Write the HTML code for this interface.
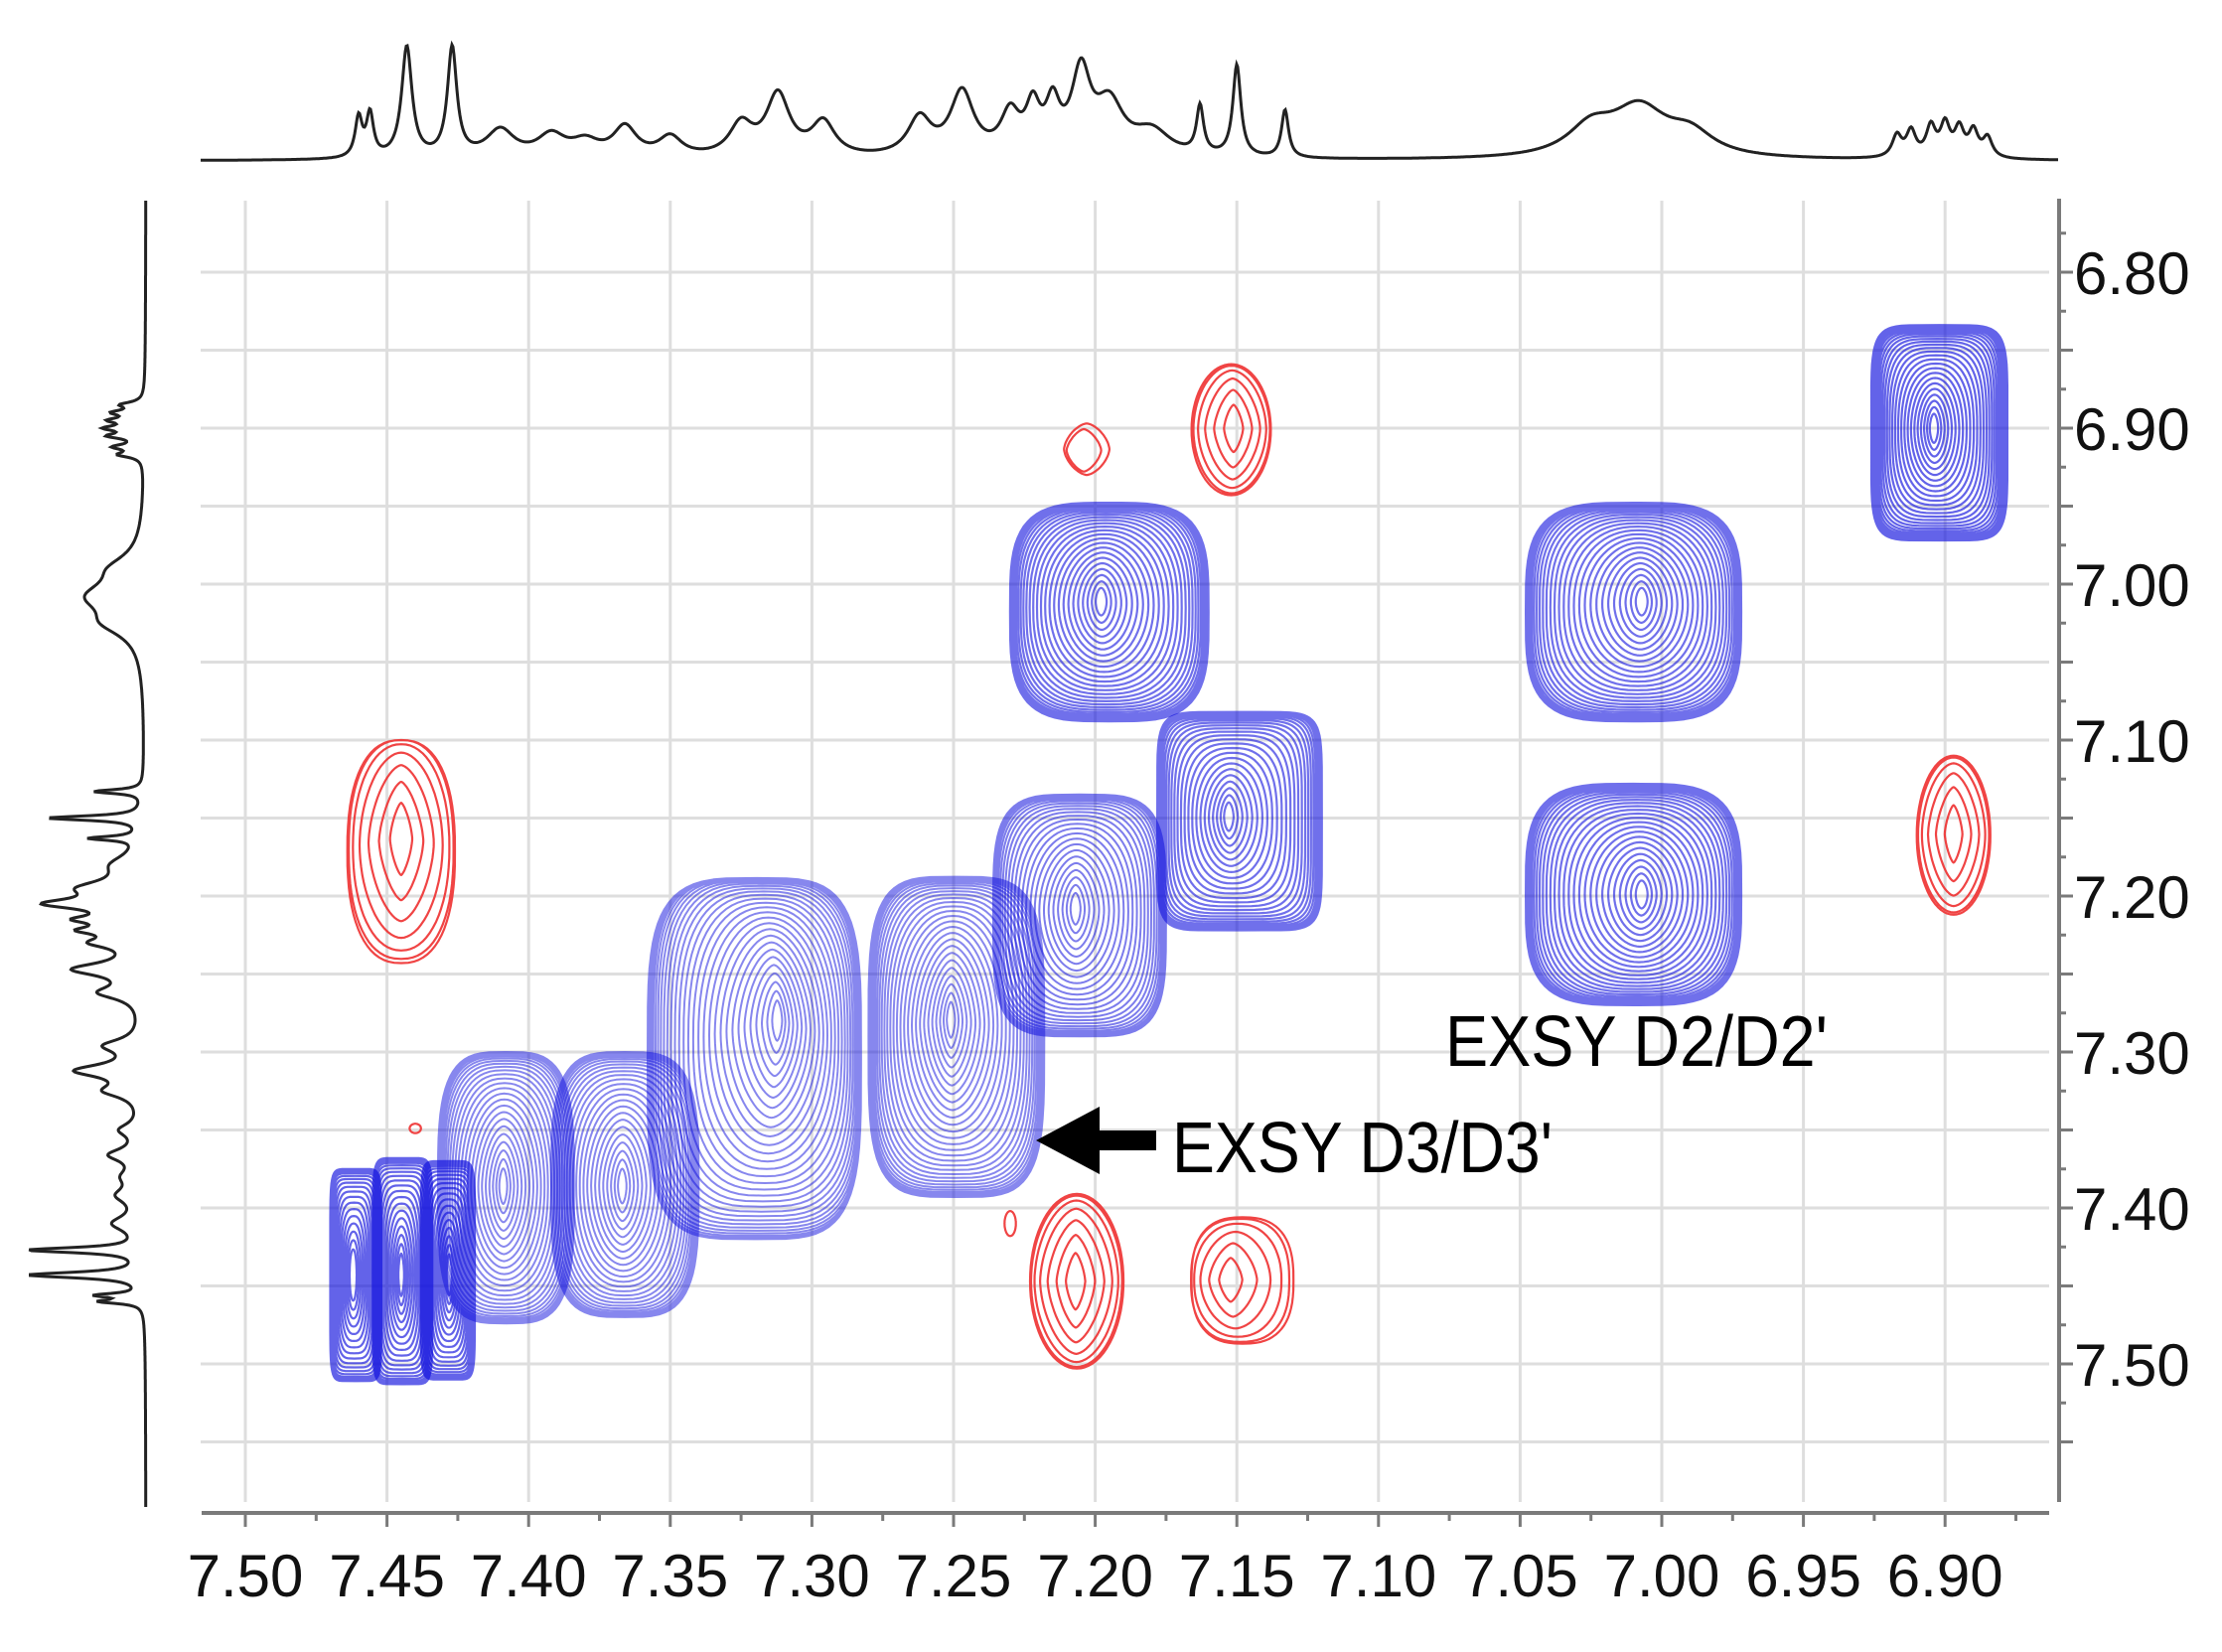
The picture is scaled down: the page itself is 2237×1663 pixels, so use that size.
<!DOCTYPE html>
<html><head><meta charset="utf-8"><style>
html,body{margin:0;padding:0;background:#fff;}
svg{display:block;}
</style></head><body>
<svg id="s" width="2237" height="1663" viewBox="0 0 2237 1663" xmlns="http://www.w3.org/2000/svg" font-family="Liberation Sans, sans-serif">
<g id="grid"></g>
<g id="cont"></g>
<g id="axes"></g>
<g id="spec"></g>
<g fill="#000">
<text x="1455" y="1073" font-size="72" textLength="385" lengthAdjust="spacingAndGlyphs">EXSY D2/D2'</text>
<text x="1180" y="1180" font-size="72" textLength="383" lengthAdjust="spacingAndGlyphs">EXSY D3/D3'</text>
<polygon points="1043,1148 1107,1114 1107,1138 1164,1138 1164,1158 1107,1158 1107,1182"/>
</g>
<g id="labels" font-size="60" fill="#111"></g>
</svg>
<script>
const NS="http://www.w3.org/2000/svg";
const X=v=>247+(7.5-v)*2852;
const Y=v=>274+(v-6.8)*1570;
function el(p,t,a,txt){const e=document.createElementNS(NS,t);for(const k in a)e.setAttribute(k,a[k]);if(txt!==undefined)e.textContent=txt;document.getElementById(p).appendChild(e);return e;}
for(let i=0;i<=12;i++){const x=X(7.5-i*0.05);el('grid','line',{x1:x,x2:x,y1:202,y2:1512,stroke:'#dedede','stroke-width':3});}
for(let i=0;i<=15;i++){const y=Y(6.8+i*0.05);el('grid','line',{x1:202,x2:2063,y1:y,y2:y,stroke:'#dedede','stroke-width':3});}
el('axes','line',{x1:203,x2:2063,y1:1523,y2:1523,stroke:'#7a7a7a','stroke-width':4});
el('axes','line',{x1:2073,x2:2073,y1:200,y2:1512,stroke:'#7a7a7a','stroke-width':4});
for(let i=0;i<=25;i++){const v=7.5-i*0.025;const x=X(v);if(x>2063)break;el('axes','line',{x1:x,x2:x,y1:1523,y2:i%2?1531:1537,stroke:'#7a7a7a','stroke-width':3});}
for(let i=-2;i<=30;i++){const v=6.8+i*0.025;const y=Y(v);if(y<203||y>1510)continue;el('axes','line',{x1:2073,x2:i%2?2080:2087,y1:y,y2:y,stroke:'#7a7a7a','stroke-width':3});}
for(let i=0;i<=12;i++){const v=7.5-i*0.05;el('labels','text',{x:X(v),y:1607,'text-anchor':'middle'},v.toFixed(2));}
for(let i=0;i<=7;i++){const v=6.8+i*0.1;el('labels','text',{x:2088,y:Y(v)+22},v.toFixed(2));}
const pk=[[7.460,40,.0015],[7.456,43,.0015],[7.443,112,.0022],[7.427,110,.002],[7.410,28,.006],[7.392,22,.006],[7.380,15,.006],[7.366,30,.005],[7.350,20,.005],[7.325,32,.005],[7.312,62,.005],[7.296,34,.005],[7.262,38,.005],[7.247,64,.005],[7.230,40,.004],[7.222,44,.003],[7.215,46,.003],[7.205,80,.004],[7.195,50,.006],[7.180,25,.008],[7.163,48,.0015],[7.150,92,.0017],[7.133,48,.0015],[7.025,28,.01],[7.008,48,.012],[6.990,22,.01],[6.917,22,.002],[6.912,26,.002],[6.905,30,.002],[6.900,32,.002],[6.895,28,.002],[6.890,26,.002],[6.885,20,.002]];
function S(v){let s=0;for(const[c,h,w]of pk){const d=(v-c)/w;s+=h/(1+d*d);}return s;}
let d='';for(let x=202;x<=2072;x+=1){const v=7.5-(x-247)/2852;d+=(x==202?'M':'L')+x+','+(162-S(v)).toFixed(1);}
el('spec','path',{d:d,fill:'none',stroke:'#222','stroke-width':3});
d='';for(let y=202;y<=1517;y+=1){const v=6.8+(y-274)/1570;d+=(y==202?'M':'L')+(147-S(v)*1.02).toFixed(1)+','+y;}
el('spec','path',{d:d,fill:'none',stroke:'#222','stroke-width':3});
function sup(cx,cy,hw,hh,n){let p='';for(let i=0;i<=72;i++){const t=i/72*2*Math.PI,c=Math.cos(t),s=Math.sin(t);const x=cx+hw*Math.sign(c)*Math.pow(Math.abs(c),2/n),y=cy+hh*Math.sign(s)*Math.pow(Math.abs(s),2/n);p+=(i?'L':'M')+x.toFixed(1)+','+y.toFixed(1);}return p+'Z';}
function blob(x1,x2,y1,y2,px,py,N,nOut,col,op,sw,inner,nIn){
 nIn=nIn||2;
 const ocx=(X(x1)+X(x2))/2,ocy=(Y(y1)+Y(y2))/2,ohw=Math.abs(X(x2)-X(x1))/2,ohh=Math.abs(Y(y2)-Y(y1))/2;
 const pcx=X(px),pcy=Y(py);let d='';
 for(let k=0;k<N;k++){const t=k/N;const s=1-(1-inner)*Math.pow(t,2);
  const cx=ocx+(pcx-ocx)*t,cy=ocy+(pcy-ocy)*t;const n=nIn+(nOut-nIn)*Math.pow(s,4);
  d+=sup(cx,cy,ohw*Math.pow(s,1.4),ohh*s,n);}
 el('cont','path',{d:d,fill:'none',stroke:col,'stroke-opacity':op,'stroke-width':sw,'stroke-linejoin':'round'});}
const B='#1010dd';
blob(6.926,6.878,6.834,6.972,6.904,6.90,28,6,B,.65,2.2,.07,1.8);
blob(7.230,7.160,6.948,7.088,7.198,7.011,28,3.6,B,.6,2.2,.06,1.8);
blob(7.048,6.972,6.948,7.088,7.007,7.011,28,3.6,B,.6,2.2,.06,1.8);
blob(7.048,6.972,7.128,7.270,7.007,7.199,28,3.6,B,.6,2.2,.06,1.8);
blob(7.470,7.452,7.375,7.511,7.462,7.443,18,8,B,.65,2.2,.15);
blob(7.455,7.434,7.368,7.513,7.445,7.443,20,8,B,.65,2.2,.1,1.7);
blob(7.438,7.419,7.370,7.510,7.428,7.443,20,8,B,.65,2.2,.1,1.7);
blob(7.432,7.384,7.300,7.474,7.409,7.386,26,3.5,B,.5,2,.06,1.7);
blob(7.392,7.340,7.300,7.470,7.367,7.386,26,3.5,B,.5,2,.06,1.7);
blob(7.358,7.283,7.190,7.420,7.312,7.279,30,4,B,.5,2,.05,1.6);
blob(7.280,7.218,7.188,7.393,7.251,7.279,30,4,B,.5,2,.05,1.6);
blob(7.236,7.175,7.135,7.290,7.207,7.208,26,4,B,.55,2,.06,1.7);
blob(7.178,7.120,7.082,7.222,7.153,7.149,26,7,B,.6,2.2,.06,1.7);
const R='#ee3030';
blob(7.464,7.426,7.100,7.243,7.445,7.162,7,2.4,R,.9,2.2,.08,1.4);
blob(7.223,7.190,7.391,7.503,7.207,7.447,7,2,R,.9,2.2,.08,1.4);
blob(7.166,7.130,7.406,7.487,7.153,7.446,6,2.6,R,.9,2.2,.06,1.4);
blob(7.166,7.138,6.859,6.943,7.151,6.90,6,2,R,.9,2.2,.08,1.4);
blob(7.211,7.195,6.897,6.930,7.205,6.915,2,1.6,R,.9,2.2,.3,1.4);
blob(6.910,6.884,7.110,7.212,6.897,7.16,6,2,R,.9,2.2,.08,1.4);
blob(7.442,7.438,7.346,7.352,7.44,7.349,1,2,R,.9,2.2,.5);
blob(7.232,7.228,7.402,7.418,7.23,7.41,1,2,R,.9,2.2,.5);
</script>
</body></html>
